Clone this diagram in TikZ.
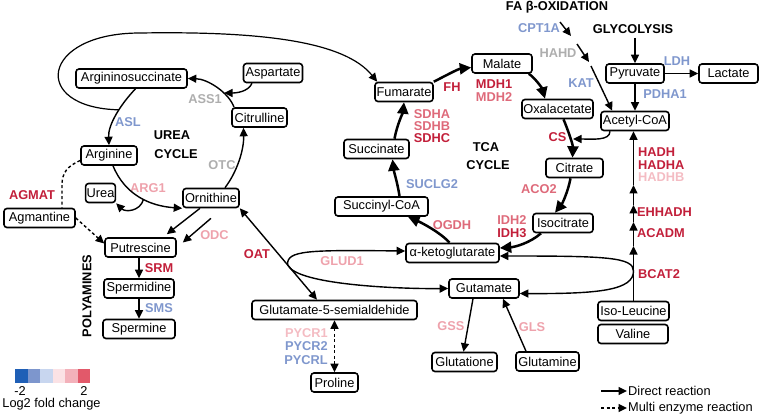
\documentclass[tikz,border=0pt]{standalone}
\usepackage{fontspec}
\setmainfont{Liberation Sans}
\usetikzlibrary{arrows.meta}
\definecolor{dred}{HTML}{C21F3A}
\definecolor{mpink}{HTML}{DE6A7A}
\definecolor{lpink}{HTML}{EEA2AC}
\definecolor{vlpink}{HTML}{F4BCC3}
\definecolor{eblue}{HTML}{7F97CD}
\definecolor{egray}{HTML}{AEAEAE}
\definecolor{cA}{HTML}{1F5FB6}
\definecolor{cB}{HTML}{7D96CD}
\definecolor{cC}{HTML}{C8D6EF}
\definecolor{cD}{HTML}{FBE2E5}
\definecolor{cE}{HTML}{F3B1BA}
\definecolor{cF}{HTML}{E2596A}
\tikzset{
  box/.style={draw, rounded corners=3pt, line width=1.6pt, minimum height=19pt, inner xsep=1pt, inner ysep=0pt},
  lab/.style={font=\fontsize{12.8}{13}\selectfont\bfseries, inner sep=0pt},
  ttl/.style={font=\fontsize{12.8}{13}\selectfont\bfseries, inner sep=0pt, text=black},
  tip/.tip={Triangle[length=8.5pt,width=8pt]},
  arr/.style={-tip, line width=1.4pt},
  tca/.style={-{Triangle[length=11.5pt,width=11pt]}, line width=2.5pt},
  dsh/.style={dash pattern=on 3pt off 2.5pt}
}
\begin{document}
\begin{tikzpicture}[x=1pt,y=-1pt,font=\fontsize{12.8}{14}\selectfont]
\useasboundingbox (0,0) rectangle (761,417);
% ---------- nodes
\node[box,minimum width=111] (argsuc) at (131.5,78.5) {Argininosuccinate};
\node[box,minimum width=59] (asp) at (273,73) {Aspartate};
\node[box,minimum width=55] (citr) at (259.5,117.5) {Citrulline};
\node[box,minimum width=56] (arg) at (109,155.5) {Arginine};
\node[box,minimum width=29] (urea) at (100.5,193) {Urea};
\node[box,minimum width=56] (orn) at (211,198) {Ornithine};
\node[box,minimum width=71] (agm) at (39.5,218) {Agmantine};
\node[box,minimum width=71] (put) at (140.5,247.5) {Putrescine};
\node[box,minimum width=70] (spd) at (139,288.5) {Spermidine};
\node[box,minimum width=72] (spm) at (139,329) {Spermine};
\node[box,minimum width=58] (fum) at (404,92) {Fumarate};
\node[box,minimum width=60] (mal) at (502,63.5) {Malate};
\node[box,minimum width=71] (oxa) at (557.5,109) {Oxalacetate};
\node[box,minimum width=68] (acoa) at (635,121) {Acetyl-CoA};
\node[box,minimum width=58] (pyr) at (635,73.5) {Pyruvate};
\node[box,minimum width=59] (lac) at (728.5,73.5) {Lactate};
\node[box,minimum width=57] (cit) at (574.5,168) {Citrate};
\node[box,minimum width=60] (iso) at (563,223) {Isocitrate};
\node[box,minimum width=93] (akg) at (452.5,253) {α-ketoglutarate};
\node[box,minimum width=93] (sco) at (381.5,206.5) {Succinyl-CoA};
\node[box,minimum width=65] (suc) at (376.5,149) {Succinate};
\node[box,minimum width=70] (glu) at (484,288.5) {Gutamate};
\node[box,minimum width=165] (g5s) at (334.5,310) {Glutamate-5-semialdehide};
\node[box,minimum width=47] (pro) at (334.5,382.5) {Proline};
\node[box,minimum width=65] (gsh) at (464.5,362) {Glutatione};
\node[box,minimum width=63] (gln) at (547.5,361.5) {Glutamine};
\node[box,minimum width=71] (ile) at (633.5,311) {Iso-Leucine};
\node[box,minimum width=70] (val) at (633,334) {Valine};
% ---------- titles
\node[ttl] (urt) at (172,135) {UREA};
\node[ttl] (urc) at (176,154) {CYCLE};
\node[ttl] (tcat) at (486,147) {TCA};
\node[ttl] (tcac) at (488,165) {CYCLE};
\node[ttl] (fa) at (557,7) {FA β-OXIDATION};
\node[ttl] (gly) at (633,29) {GLYCOLYSIS};
\node[ttl,rotate=90] (poly) at (87,296) {POLYAMINES};
% ---------- enzyme labels
\node[lab,text=egray] (l1) at (205,99) {ASS1};
\node[lab,text=eblue] (l2) at (128,122) {ASL};
\node[lab,text=egray] (l3) at (222,165) {OTC};
\node[lab,text=lpink] (l4) at (148,188) {ARG1};
\node[lab,text=dred] (l5) at (32,195) {AGMAT};
\node[lab,text=lpink] (l6) at (214.5,235) {ODC};
\node[lab,text=dred] (l7) at (159,268) {SRM};
\node[lab,text=eblue] (l8) at (159,308) {SMS};
\node[lab,text=dred] (l9) at (257,254) {OAT};
\node[lab,text=dred] (l10) at (452,87) {FH};
\node[lab,text=dred] (l11) at (494,84) {MDH1};
\node[lab,text=mpink] (l12) at (494,97) {MDH2};
\node[lab,text=mpink] (l13) at (432,114) {SDHA};
\node[lab,text=mpink] (l14) at (432,126) {SDHB};
\node[lab,text=dred] (l15) at (432,138) {SDHC};
\node[lab,text=eblue] (l16) at (432,184) {SUCLG2};
\node[lab,text=mpink] (l17) at (452,225) {OGDH};
\node[lab,text=mpink] (l18) at (512,220.5) {IDH2};
\node[lab,text=dred] (l19) at (512,233.5) {IDH3};
\node[lab,text=mpink] (l20) at (539,189) {ACO2};
\node[lab,text=dred] (l21) at (557.5,137.5) {CS};
\node[lab,text=eblue] (l22) at (581,83) {KAT};
\node[lab,text=egray] (l23) at (558,53) {HAHD};
\node[lab,text=eblue] (l24) at (539,28) {CPT1A};
\node[lab,text=eblue] (l25) at (677,61) {LDH};
\node[lab,text=eblue] (l26) at (665,94) {PDHA1};
\node[lab,text=dred,anchor=west] (l27) at (638,152.5) {HADH};
\node[lab,text=dred,anchor=west] (l28) at (638,165) {HADHA};
\node[lab,text=vlpink,anchor=west] (l29) at (638,177.5) {HADHB};
\node[lab,text=dred,anchor=west] (l30) at (637,212) {EHHADH};
\node[lab,text=dred,anchor=west] (l31) at (637,233) {ACADM};
\node[lab,text=dred,anchor=west] (l32) at (638,274) {BCAT2};
\node[lab,text=lpink] (l33) at (342,261) {GLUD1};
\node[lab,text=lpink] (l34) at (451,326) {GSS};
\node[lab,text=lpink] (l35) at (532,327) {GLS};
\node[lab,text=vlpink,anchor=east] (l36) at (328,333) {PYCR1};
\node[lab,text=eblue,anchor=east] (l37) at (328,346) {PYCR2};
\node[lab,text=eblue,anchor=east] (l38) at (328,360) {PYCRL};
% ---------- urea cycle connectors
\coordinate (j1) at (224,93);
\draw[arr] ([xshift=-25.5pt]citr.north) .. controls (229,93) and (208,79) .. (argsuc.east);
\draw[arr] ([xshift=-21pt]asp.south) .. controls (248,92) and (236,93) .. (j1);
\draw[arr] ([xshift=4pt]argsuc.south) .. controls (120,105) and (108,125) .. (arg.north) coordinate[pos=0.4] (l0);
\draw[arr,line width=1.2pt] (l0) .. controls (30,108) and (40,33) .. (140,33) .. controls (265,31) and (345,42) .. ([xshift=3pt]fum.north west);
\draw[arr] ([xshift=4pt]arg.south) .. controls (125,195) and (150,206) .. (orn.south west) coordinate[pos=0.55] (u0);
\draw[arr] (u0) .. controls (140,212) and (125,212) .. (urea.south east);
\draw[arr] ([xshift=14pt]orn.north) .. controls (237,172) and (244,150) .. ([xshift=-16pt]citr.south);
\draw[arr] ([xshift=-11pt]orn.south) -- ([shift={(-10pt,3pt)}]put.north east);
\draw[arr] ([yshift=-10pt]orn.south) -- ([shift={(6pt,5pt)}]put.east);
\draw[arr,dsh] (agm.east) -- ([yshift=4pt]put.west);
\draw[line width=1.4pt,dsh] ([yshift=-5pt]arg.west) .. controls (68,166) and (62,172) .. (62,185) -- ([xshift=22.5pt]agm.north);
\draw[arr] (spd.north |- put.south) -- (spd.north);
\draw[arr] (spm.north |- spd.south) -- (spm.north);
\draw[tip-tip, line width=1.4pt] (orn.south east) -- ([xshift=-17.5pt]g5s.north) coordinate[pos=0.62] (g0);
\draw[arr] (g0) .. controls (286,250) and (310,250) .. ([yshift=2pt]akg.west);
\draw[arr] (g0) .. controls (297,285) and (400,289) .. (glu.west);
% ---------- TCA
\draw[tca] ([xshift=-4pt]mal.south east) .. controls (535,78) and (542,88) .. ([xshift=-12.5pt]oxa.north);
\draw[tca] ([xshift=6pt]oxa.south) .. controls (568,130) and (573,145) .. ([xshift=-2pt]cit.north);
\draw[tca] ([xshift=-4pt]cit.south) .. controls (568,192) and (562,204) .. ([xshift=-8pt]iso.north);
\draw[tca] ([xshift=-22pt]iso.south) .. controls (530,243) and (515,247) .. ([yshift=5pt]akg.east);
\draw[tca] ([xshift=-3pt]akg.north) .. controls (440,232) and (420,222) .. ([xshift=26.5pt]sco.south);
\draw[tca] ([xshift=18pt]sco.north) .. controls (398,185) and (394,172) .. ([xshift=16pt]suc.south);
\draw[tca] ([xshift=18pt]suc.north) .. controls (397,125) and (403,112) .. (fum.south);
\draw[tca] (fum.north east) .. controls (445,76) and (458,69) .. ([yshift=-4pt]mal.west);
% ---------- acetyl-CoA inputs
\coordinate (cs0) at (573,139);
\draw[arr] ([xshift=-25pt]acoa.south) .. controls (610,141) and (592,139) .. (cs0);
\coordinate (a1s) at (560,22);
\coordinate (a1e) at (571,36);
\coordinate (a2s) at (577,44);
\coordinate (a2e) at (589,62);
\coordinate (a3s) at (591,66);
\draw[arr] (a1s) -- (a1e);
\draw[arr] (a2s) -- (a2e);
\draw[arr] (a3s) -- ([xshift=12pt]acoa.north west);
\coordinate (g1) at (635,38);
\draw[arr] (g1) -- (pyr.north);
\draw[arr] (pyr.east) -- (lac.west);
\draw[arr] (pyr.south) -- (acoa.north);
% ---------- BCAA chain
\coordinate (h1) at (633.5,246);
\coordinate (h2) at (633.5,222);
\coordinate (h3) at (633.5,205);
\coordinate (h4) at (633.5,185);
\coordinate (bj) at (633.5,271);
\draw[arr] (ile.north) -- (h1);
\draw[arr] (h1) -- (h2);
\draw[arr] (h2) -- (h3);
\draw[arr] (h3) -- (h4);
\draw[arr] (h4) -- (h4 |- acoa.south);
\draw[arr] (bj) .. controls (633.5,257) and (605,256) .. ([yshift=-3pt]akg.east);
\draw[arr] (bj) .. controls (633.5,290) and (600,294) .. ([yshift=-5pt]glu.east);
% ---------- glutamate branch
\draw[arr] ([xshift=-11pt]glu.south) -- ([xshift=-1pt]gsh.north);
\draw[arr] ([xshift=-21.5pt]gln.north) -- ([xshift=19pt]glu.south);
\draw[tip-tip, line width=1.4pt, dsh] (g5s.south) -- (pro.north);
% ---------- legend
\fill[cA] (15,369) rectangle (27.5,383);
\fill[cB] (27.5,369) rectangle (40,383);
\fill[cC] (40,369) rectangle (52.5,383);
\fill[cD] (52.5,369) rectangle (65,383);
\fill[cE] (65,369) rectangle (77.5,383);
\fill[cF] (77.5,369) rectangle (90,383);
\node[inner sep=0pt] (lm) at (20,391) {-2};
\node[inner sep=0pt] (lp) at (84,391) {2};
\node[inner sep=0pt] (lt) at (51.5,404.5) {Log2 fold change};
\coordinate (d1) at (601,391);
\coordinate (d2) at (627,391);
\coordinate (m1) at (601,408);
\coordinate (m2) at (627,408);
\draw[arr] (d1) -- (d2);
\draw[arr,dsh] (m1) -- (m2);
\node[inner sep=0pt,anchor=west] (dr) at (628,391) {Direct reaction};
\node[inner sep=0pt,anchor=west] (mr) at (628,408) {Multi enzyme reaction};
\end{tikzpicture}
\end{document}
